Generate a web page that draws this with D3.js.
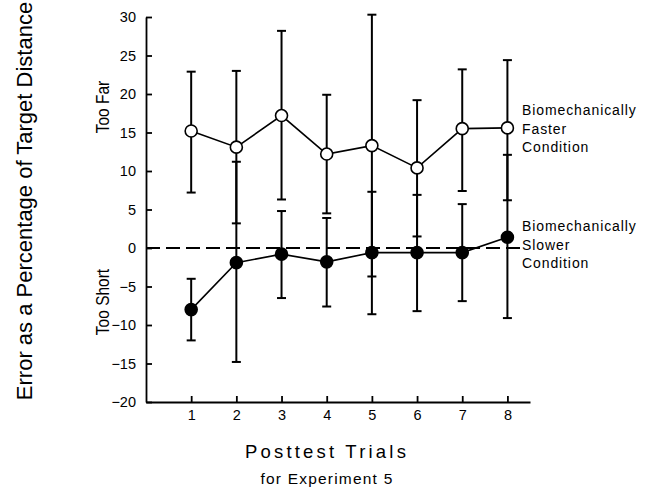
<!DOCTYPE html>
<html>
<head>
<meta charset="utf-8">
<script src="https://cdn.jsdelivr.net/npm/d3@7"></script>
<style>
    body { margin: 0; background: #fff; }
    svg { display: block; font-family: "Liberation Sans", Arial, Helvetica, sans-serif; }
    .axis path, .axis line { stroke: #000; stroke-width: 1.8; }
    .axis text { fill: #000; font-size: 14.5px; font-family: "Liberation Sans", Arial, sans-serif; }
</style>
</head>
<body>
<div id="chart"></div>
<script>
/*
 * Posttest trials, experiment 5 - error bars chart
 */

var trials = [1, 2, 3, 4, 5, 6, 7, 8];
var yTicks = [-20, -15, -10, -5, 0, 5, 10, 15, 20, 25, 30];

// Biomechanically faster condition (open circles)
var faster   = [15.2, 13.1, 17.2, 12.2, 13.3, 10.4, 15.5, 15.6];
var fasterHi = [22.9, 23.0, 28.2, 19.9, 30.3, 19.2, 23.2, 24.4];
var fasterLo = [7.2, 3.2, 6.3, 4.5, -3.7, 1.5, 7.4, 6.2];

// Biomechanically slower condition (filled circles)
var slower   = [-8.0, -1.9, -0.8, -1.8, -0.6, -0.6, -0.6, 1.4];
var slowerHi = [-4.0, 11.2, 4.8, 3.9, 7.3, 6.9, 5.7, 12.1];
var slowerLo = [-12.0, -14.8, -6.5, -7.6, -8.6, -8.2, -6.9, -9.1];

var fasterLabel = ['Biomechanically', 'Faster', 'Condition'];
var slowerLabel = ['Biomechanically', 'Slower', 'Condition'];

(function (d3) {

    'use strict';

    var width = 650, height = 493;

    var svg = d3.select('#chart').append('svg')
        .attr('width', width)
        .attr('height', height);

    var x = d3.scaleLinear().domain([0, 8.5]).range([146, 530]);
    var y = d3.scaleLinear().domain([-20, 30]).range([402, 17]);

    // axes, ticks point inward
    svg.append('g')
        .attr('class', 'axis')
        .attr('transform', 'translate(' + x(0) + ',0)')
        .call(d3.axisLeft(y).tickValues(yTicks).tickSizeInner(-6).tickSizeOuter(0).tickPadding(10));

    svg.append('g')
        .attr('class', 'axis')
        .attr('transform', 'translate(0,' + y(-20) + ')')
        .call(d3.axisBottom(x).tickValues(trials).tickSizeInner(-6).tickSizeOuter(0).tickPadding(8));

    // zero reference line
    svg.append('line')
        .attr('x1', x(0)).attr('x2', x(8.3))
        .attr('y1', y(0)).attr('y2', y(0))
        .attr('stroke', '#000')
        .attr('stroke-width', 2)
        .attr('stroke-dasharray', '14,6');

    function series(mean, hi, lo, filled) {
        var rows = trials.map(function (t, i) {
            return { t: t, m: mean[i], hi: hi[i], lo: lo[i] };
        });
        var g = svg.append('g');

        // error bars
        var eb = g.selectAll('.eb').data(rows).enter().append('g')
            .attr('stroke', '#000')
            .attr('stroke-width', 2);
        eb.append('line')
            .attr('x1', function (d) { return x(d.t); })
            .attr('x2', function (d) { return x(d.t); })
            .attr('y1', function (d) { return y(d.hi); })
            .attr('y2', function (d) { return y(d.lo); });
        ['hi', 'lo'].forEach(function (k) {
            eb.append('line')
                .attr('x1', function (d) { return x(d.t) - 4.5; })
                .attr('x2', function (d) { return x(d.t) + 4.5; })
                .attr('y1', function (d) { return y(d[k]); })
                .attr('y2', function (d) { return y(d[k]); });
        });

        g.append('path')
            .datum(rows)
            .attr('fill', 'none')
            .attr('stroke', '#000')
            .attr('stroke-width', 1.6)
            .attr('d', d3.line().x(function (d) { return x(d.t); }).y(function (d) { return y(d.m); }));

        g.selectAll('circle').data(rows).enter().append('circle')
            .attr('cx', function (d) { return x(d.t); })
            .attr('cy', function (d) { return y(d.m); })
            .attr('r', 6)
            .attr('fill', filled ? '#000' : '#fff')
            .attr('stroke', '#000')
            .attr('stroke-width', 1.6);
    }

    series(faster, fasterHi, fasterLo, false);
    series(slower, slowerHi, slowerLo, true);

    function label(lines, y0) {
        svg.append('text')
            .attr('x', 522)
            .attr('y', y0)
            .attr('font-size', 14)
            .attr('letter-spacing', 0.9)
            .selectAll('tspan').data(lines).enter().append('tspan')
            .attr('x', 522)
            .attr('dy', function (d, i) { return i ? 18.5 : 0; })
            .text(function (d) { return d; });
    }
    label(fasterLabel, 115);
    label(slowerLabel, 231);

    // axis titles
    svg.append('text')
        .attr('transform', 'translate(32,201) rotate(-90)')
        .attr('text-anchor', 'middle')
        .attr('font-size', 22)
        .text('Error as a Percentage of Target Distance');

    // rotated side notes, glyphs a little stretched like the scan
    svg.append('text')
        .attr('transform', 'translate(109,107) rotate(-90) scale(1,1.2)')
        .attr('text-anchor', 'middle')
        .attr('font-size', 15.5)
        .text('Too Far');

    svg.append('text')
        .attr('transform', 'translate(109,302) rotate(-90) scale(1,1.2)')
        .attr('text-anchor', 'middle')
        .attr('font-size', 15.5)
        .text('Too Short');

    svg.append('text')
        .attr('x', 327).attr('y', 458)
        .attr('text-anchor', 'middle')
        .attr('font-size', 18.5)
        .attr('letter-spacing', 3.2)
        .text('Posttest Trials');

    svg.append('text')
        .attr('x', 327).attr('y', 484)
        .attr('text-anchor', 'middle')
        .attr('font-size', 15.5)
        .attr('letter-spacing', 1.2)
        .text('for Experiment 5');

})(d3);
</script>
</body>
</html>
